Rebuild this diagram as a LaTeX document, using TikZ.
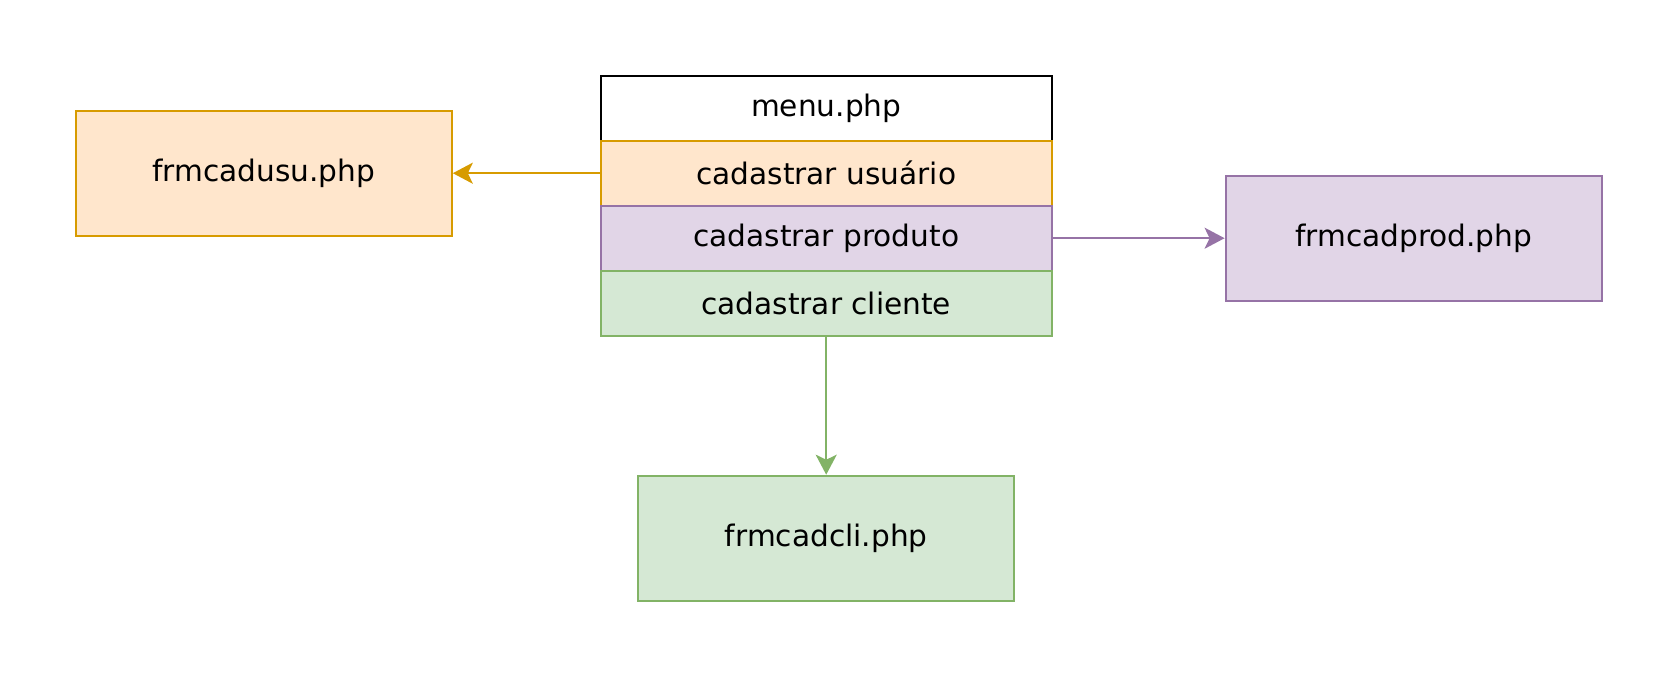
\documentclass[tikz,border=0pt]{standalone}
\usepackage{fontspec}
\setmainfont{DejaVu Sans}
\usetikzlibrary{arrows.meta}
\definecolor{ofill}{HTML}{FFE6CC}\definecolor{odraw}{HTML}{D79B00}
\definecolor{pfill}{HTML}{E1D5E7}\definecolor{pdraw}{HTML}{9673A6}
\definecolor{gfill}{HTML}{D5E8D4}\definecolor{gdraw}{HTML}{82B366}
\tikzset{
  box/.style={draw, rectangle, line width=2.2pt, inner sep=0pt, font=\fontsize{29.6}{35}\selectfont},
  row/.style={box, minimum width=451pt, minimum height=65pt},
  page/.style={box, minimum width=376pt, minimum height=125pt},
  conn/.style={line width=2.2pt, -{Stealth[length=20pt, width=21pt, inset=5pt]}}
}
\begin{document}
\begin{tikzpicture}[x=1pt,y=1pt]
\useasboundingbox (0,0) rectangle (1678,-678);
\node[row, draw=black, fill=white] (menu) at (826.2,-108.2) {menu.php};
\node[row, draw=odraw, fill=ofill] (usu) at (826.2,-173.2) {cadastrar usuário};
\node[row, draw=pdraw, fill=pfill] (prod) at (826.2,-238.2) {cadastrar produto};
\node[row, draw=gdraw, fill=gfill] (cli) at (826.2,-303.4) {cadastrar cliente};
\node[page, draw=odraw, fill=ofill] (fusu) at (263.7,-173.2) {frmcadusu.php};
\node[page, draw=pdraw, fill=pfill] (fprod) at (1413.7,-238.2) {frmcadprod.php};
\node[page, draw=gdraw, fill=gfill] (fcli) at (826.2,-538.3) {frmcadcli.php};
\draw[conn, draw=odraw, fill=odraw] (usu.west) -- (usu.west -| fusu.east);
\draw[conn, draw=pdraw, fill=pdraw] (prod.east) -- (prod.east -| fprod.west);
\draw[conn, draw=gdraw, fill=gdraw] (cli.south) -- (cli.south |- fcli.north);
\end{tikzpicture}
\end{document}
